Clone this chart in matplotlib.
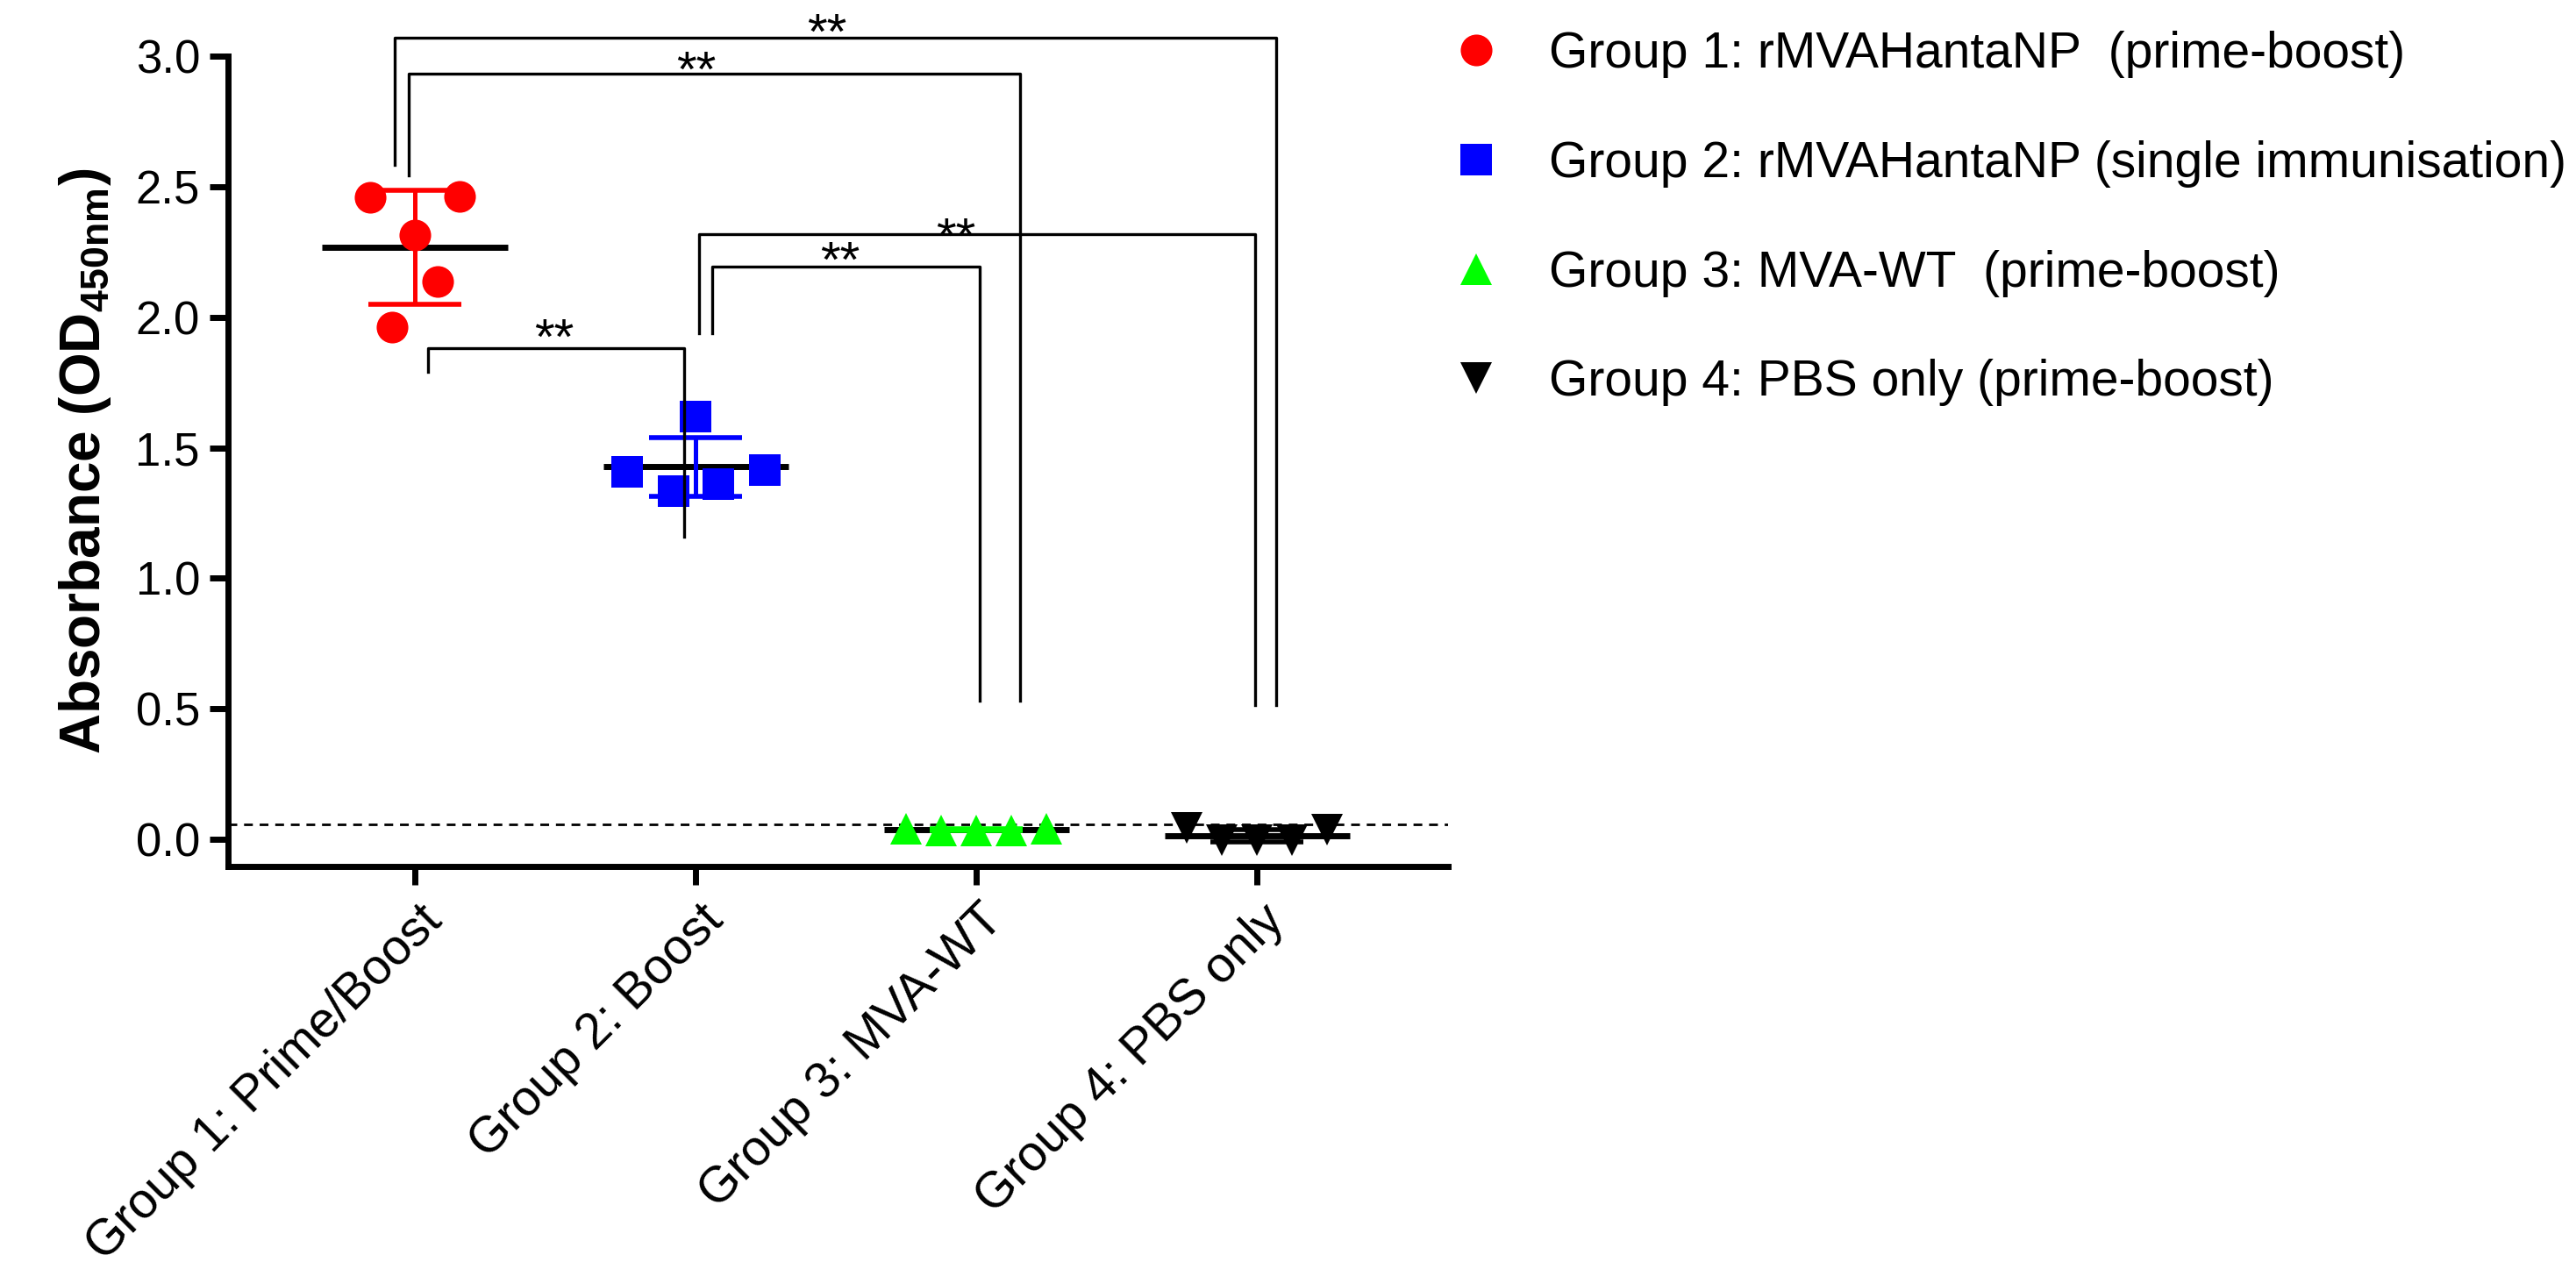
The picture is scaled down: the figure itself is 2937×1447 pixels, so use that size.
import numpy as np
import matplotlib
matplotlib.use('Agg')
import matplotlib.pyplot as plt
from matplotlib.lines import Line2D
from matplotlib.transforms import ScaledTranslation

plt.rcParams['font.family'] = ['Liberation Sans', 'DejaVu Sans']
plt.rcParams['mathtext.fontset'] = 'custom'
plt.rcParams['mathtext.rm'] = 'Liberation Sans'
plt.rcParams['mathtext.bf'] = 'Liberation Sans:bold'

# data (OD450nm per mouse)
groups = ['Group 1: Prime/Boost', 'Group 2: Boost', 'Group 3: MVA-WT', 'Group 4: PBS only']
g1 = [2.460, 1.961, 2.314, 2.136, 2.464]
g2 = [1.407, 1.334, 1.619, 1.361, 1.415]
g3 = [0.042, 0.035, 0.033, 0.035, 0.040]
g4 = [0.044, -0.004, -0.004, -0.004, 0.038]
legend_labels = ['Group 1: rMVAHantaNP  (prime-boost)',
                 'Group 2: rMVAHantaNP (single immunisation)',
                 'Group 3: MVA-WT  (prime-boost)',
                 'Group 4: PBS only (prime-boost)']
cutoff = 0.057
sig_label = '**'

# layout / style
values = [g1, g2, g3, g4]
spread = [[-0.16, -0.08, 0, 0.08, 0.16],
          [-0.245, -0.08, 0, 0.08, 0.245],
          [-0.25, -0.125, 0, 0.125, 0.25],
          [-0.25, -0.125, 0, 0.125, 0.25]]
colors = ['#ff0000', '#0000ff', '#00ff00', '#000000']
markers = ['o', 's', '^', 'v']
MS = 26

# brackets: x left, x right, top, left end, right end
brackets = [(-0.072, 3.067, 3.071, 2.583, 0.515),
            (-0.022, 2.155, 2.934, 2.544, 0.531),
            (1.0125, 2.993, 2.319, 1.94, 0.515),
            (1.058, 2.012, 2.195, 1.94, 0.531),
            (0.047, 0.959, 1.88, 1.79, 1.159)]
stars = [(1.466, 3.027), (1.003, 2.882), (1.927, 2.244), (1.514, 2.153), (0.497, 1.858)]

fig = plt.figure(figsize=(29.37, 14.47), dpi=100)
ax = fig.add_axes([0.0885, 0.3174, 0.4736, 0.6384])

ax.axhline(cutoff, color='black', lw=2, dashes=(3.6, 2.8), zorder=1)

for i, vals in enumerate(values):
    vals = np.array(vals)
    m = vals.mean()
    sd = vals.std(ddof=1)
    ax.plot([i - 0.33, i + 0.33], [m, m], color='black', lw=5, solid_capstyle='butt', zorder=2)
    ax.errorbar(i, m, yerr=sd, fmt='none', ecolor=colors[i], elinewidth=3.6,
                capsize=38, capthick=4, zorder=3)
    ax.plot(i + np.array(spread[i]), vals, linestyle='none', marker=markers[i],
            ms=MS, color=colors[i], markeredgewidth=0, zorder=4)

for (xl, xr, top, yl, yr) in brackets:
    ax.plot([xl, xl, xr, xr], [yl, top, top, yr], color='black', lw=2.4,
            clip_on=False, zorder=6)
for (sx, sy) in stars:
    ax.text(sx, sy, sig_label, ha='center', va='baseline', fontsize=42, zorder=6)

ax.set_xlim(-0.666, 3.68)
ax.set_ylim(-0.103, 3.0)
ax.set_yticks(np.arange(0, 3.01, 0.5))
ax.set_yticklabels(['%.1f' % v for v in np.arange(0, 3.01, 0.5)])
ax.set_xticks(range(len(groups)))

ax.spines['top'].set_visible(False)
ax.spines['right'].set_visible(False)
for s in ['left', 'bottom']:
    ax.spines[s].set_linewidth(5)
ax.tick_params(axis='y', length=15, width=5, labelsize=38, pad=8)
ax.tick_params(axis='x', length=15, width=5, pad=0)

ax.set_xticklabels(groups, rotation=45, rotation_mode='anchor', ha='right', va='baseline', fontsize=41)
shift = ScaledTranslation(23.8 / 72, -31 / 72, fig.dpi_scale_trans)
for lab in ax.get_xticklabels():
    lab.set_transform(lab.get_transform() + shift)

ax.set_ylabel('Absorbance (OD$_{\\mathbf{450nm}}$)', fontsize=46, fontweight='bold', labelpad=18)

handles = [Line2D([], [], linestyle='none', marker=markers[i], color=colors[i], ms=MS,
                  markeredgewidth=0) for i in range(4)]
fig.legend(handles, legend_labels, loc='upper left', bbox_to_anchor=(0.5633, 0.9756),
           frameon=False, fontsize=41, borderpad=0, handlelength=1.0, handletextpad=0.96,
           labelspacing=1.24, borderaxespad=0)

fig.savefig('out.png', dpi=100)
